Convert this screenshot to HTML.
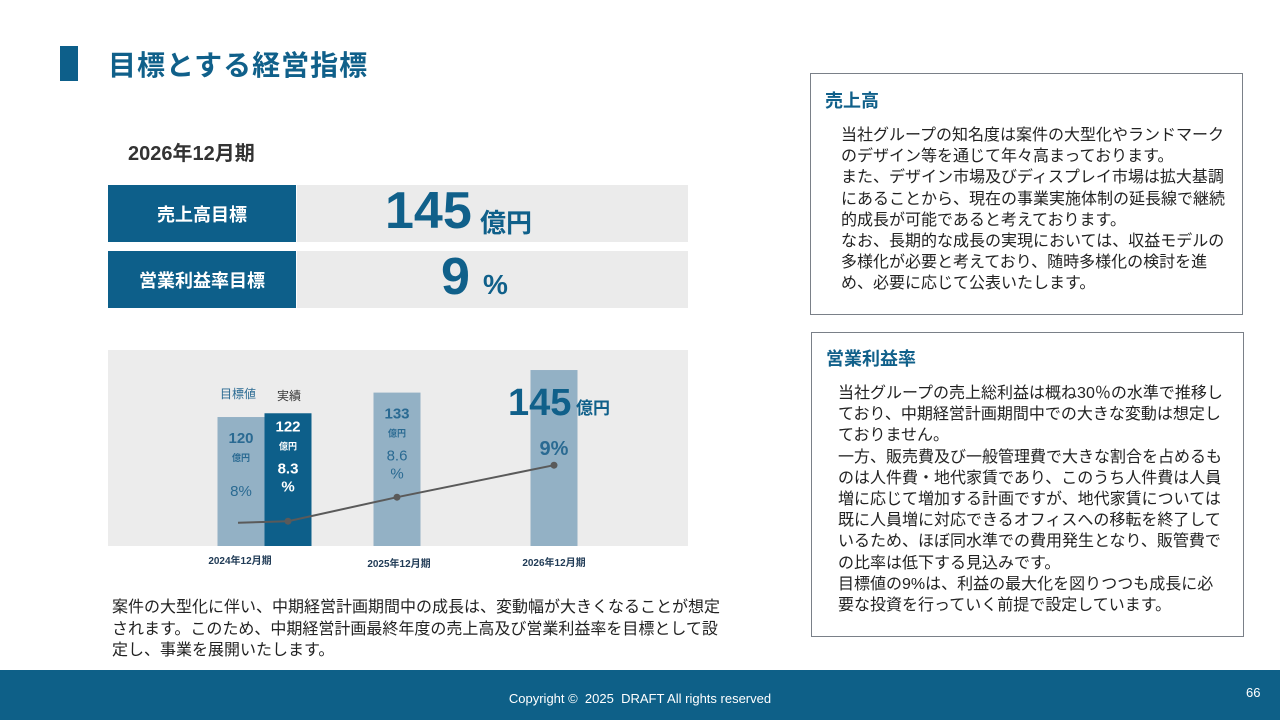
<!DOCTYPE html>
<html><head><meta charset="utf-8">
<style>
body{margin:0;width:1280px;height:720px;position:relative;background:#fff;font-family:"Liberation Sans","Noto Sans CJK JP",sans-serif;overflow:hidden}
.a{position:absolute}
.nar{font-family:"Liberation Sans Narrow","Liberation Sans","Noto Sans CJK JP",sans-serif;font-weight:bold}
.txt{font-size:16px;letter-spacing:0;line-height:21.2px;color:#222;white-space:nowrap}
.box{border:1.5px solid #7a8088;box-sizing:border-box}
.head{font-size:18px;font-weight:bold;color:#10608a}
.lab{background:#0d5f8a;color:#fff;font-weight:bold;font-size:18px;display:flex;align-items:center;justify-content:center}
.val{background:#ebebeb;color:#10608a}
</style></head><body>
<div class="a" style="left:60px;top:46px;width:18px;height:35px;background:#0d5f8a"></div>
<div class="a" style="left:108px;top:44px;font-size:28px;font-weight:bold;color:#10608a;letter-spacing:1px">目標とする経営指標</div>
<div class="a" style="left:128px;top:137px;font-size:20px;font-weight:bold;color:#333">2026年12月期</div>

<div class="a lab" style="left:108px;top:185px;width:188px;height:57px">売上高目標</div>
<div class="a val" style="left:297px;top:185px;width:391px;height:57px">
 <span class="a nar" style="left:88px;top:-4px;font-size:52px">145</span><span class="a" style="left:183px;top:18px;font-size:26px;font-weight:bold">億円</span></div>
<div class="a lab" style="left:108px;top:251px;width:188px;height:57px">営業利益率目標</div>
<div class="a val" style="left:297px;top:251px;width:391px;height:57px">
 <span class="a nar" style="left:144px;top:-4px;font-size:52px">9</span><span class="a" style="left:186px;top:18px;font-size:28px;font-weight:bold">%</span></div>

<svg class="a" id="chart" style="left:0;top:0" width="1280" height="720"></svg>

<div class="a txt" style="left:112px;top:597px;line-height:21.5px">案件の大型化に伴い、中期経営計画期間中の成長は、変動幅が大きくなることが想定<br>されます。このため、中期経営計画最終年度の売上高及び営業利益率を目標として設<br>定し、事業を展開いたします。</div>

<div class="a box" style="left:810px;top:73px;width:433px;height:242px">
 <div class="a head" style="left:14px;top:13px">売上高</div>
 <div class="a txt" style="left:30px;top:51px">当社グループの知名度は案件の大型化やランドマーク<br>のデザイン等を通じて年々高まっております。<br>また、デザイン市場及びディスプレイ市場は拡大基調<br>にあることから、現在の事業実施体制の延長線で継続<br>的成長が可能であると考えております。<br>なお、長期的な成長の実現においては、収益モデルの<br>多様化が必要と考えており、随時多様化の検討を進<br>め、必要に応じて公表いたします。</div>
</div>
<div class="a box" style="left:811px;top:332px;width:433px;height:305px">
 <div class="a head" style="left:14px;top:12px">営業利益率</div>
 <div class="a txt" style="left:26px;top:50px">当社グループの売上総利益は概ね30％の水準で推移し<br>ており、中期経営計画期間中での大きな変動は想定し<br>ておりません。<br>一方、販売費及び一般管理費で大きな割合を占めるも<br>のは人件費・地代家賃であり、このうち人件費は人員<br>増に応じて増加する計画ですが、地代家賃については<br>既に人員増に対応できるオフィスへの移転を終了して<br>いるため、ほぼ同水準での費用発生となり、販管費で<br>の比率は低下する見込みです。<br>目標値の9%は、利益の最大化を図りつつも成長に必<br>要な投資を行っていく前提で設定しています。</div>
</div>

<div class="a" style="left:0;top:670px;width:1280px;height:50px;background:#0e6088"></div>
<div class="a" style="left:0;top:691px;width:1280px;text-align:center;color:#fff;font-size:13px">Copyright ©&nbsp; 2025&nbsp; DRAFT All rights reserved</div>
<div class="a" style="left:1246px;top:685px;color:#fff;font-size:13px">66</div>

<script>
const categories=["2024年12月期","2024年12月期","2025年12月期","2026年12月期"];
const salesValues=[120,122,133,145];
const marginValues=[8.28,8.3,8.6,9];
const salesLabels=["120","122","133","145"];
const marginLabels=["8%","8.3\n%","8.6\n%","9%"];
const xLabels=["2024年12月期","2025年12月期","2026年12月期"];
const NS="http://www.w3.org/2000/svg";
const svg=document.getElementById('chart');
const base=546;
const barX=[241,288,397,554];
const barW=47;
const ys=v=>base-(v-51.4)*1.88;
const ym=v=>base-(v-7.99)*80;
function mk(t,a,txt){const e=document.createElementNS(NS,t);for(const k in a)e.setAttribute(k,a[k]);if(txt!==undefined)e.textContent=txt;svg.appendChild(e);return e;}
let bg=mk('rect',{x:108,y:350,width:580,height:196,fill:'#ececec'});


salesValues.forEach((v,i)=>{
 const r=mk('rect',{x:barX[i]-barW/2,y:ys(v),width:barW,height:base-ys(v),fill:i===1?'#0d5f8a':'#93b1c5'});
 
 
});
const lc=i=>i===1?'#fff':'#2a6a92';
[0,1,2].forEach(i=>{
 const top=ys(salesValues[i]);
 const off=i===0?26:(i===1?18:26);
 let t=mk('text',{x:barX[i],y:top+off,'text-anchor':'middle','font-size':15,'font-weight':i===1?'bold':'normal',fill:lc(i),class:'nar'},salesLabels[i]);
 
 
 let u=mk('text',{x:barX[i],y:top+off+18,'text-anchor':'middle','font-size':9,'font-weight':'bold',fill:lc(i)},'億円');
 
 
 const parts=marginLabels[i].split('\n');
 parts.forEach((p,j)=>{
  let m=mk('text',{x:barX[i],y:(i===0?top+79:top+off+42)+j*18,'text-anchor':'middle','font-size':15,'font-weight':i===1?'bold':'normal',fill:lc(i)},p);
  
  
 });
});
let big=mk('text',{x:508,y:415,'font-size':38,'font-weight':'bold',fill:'#10608a',class:'nar'},salesLabels[3]);


let bigu=mk('text',{x:576,y:414,'font-size':17,'font-weight':'bold',fill:'#10608a'},'億円');


let p9=mk('text',{x:554,y:455,'text-anchor':'middle','font-size':20,'font-weight':'bold',fill:'#2a6a92'},marginLabels[3]);


let lg1=mk('text',{x:238,y:398,'text-anchor':'middle','font-size':12,fill:'#2a6a92'},'目標値');


let lg2=mk('text',{x:289,y:400,'text-anchor':'middle','font-size':12,fill:'#333'},'実績');


const lx=[barX[0]-3,barX[1],barX[2],barX[3]];
const pts=marginValues.map((v,i)=>lx[i]+','+ym(v)).join(' ');
let pl=mk('polyline',{points:pts,fill:'none',stroke:'#5a5a5a','stroke-width':2});


marginValues.forEach((v,i)=>{if(i===0)return;
 let c=mk('circle',{cx:lx[i],cy:ym(v),r:3.5,fill:'#5a5a5a'});
 
 
});
const xl=[240,399,554],xy=[564,567,566];
xLabels.forEach((s,i)=>{
 let t=mk('text',{x:xl[i],y:xy[i],'text-anchor':'middle','font-size':10,'font-weight':'bold',fill:'#1f3a55'},s);
 
 
});
</script>
</body></html>
